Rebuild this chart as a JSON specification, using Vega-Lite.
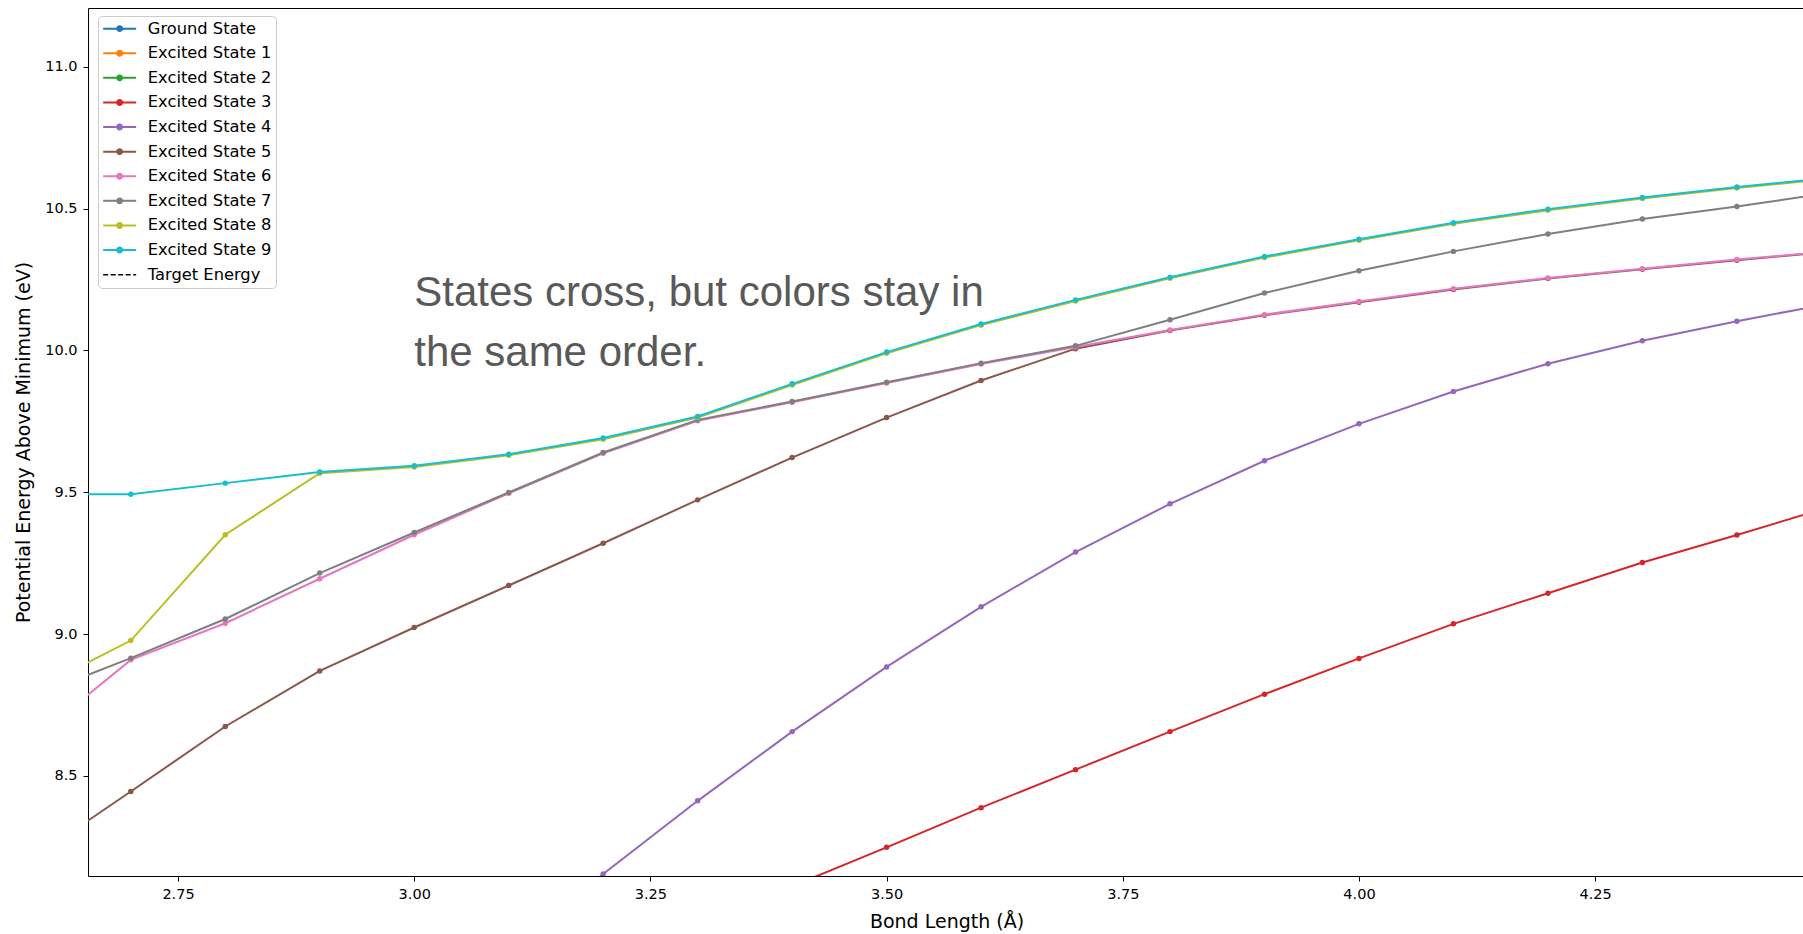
{
  "$schema": "https://vega.github.io/schema/vega-lite/v6.json",
  "width": 1717,
  "height": 868,
  "autosize": {"type": "none"},
  "padding": {"left": 88, "top": 8, "right": 0, "bottom": 58},
  "background": "white",
  "config": {
    "view": {"stroke": "#000000", "strokeWidth": 1},
    "axis": {
      "domain": false,
      "grid": false,
      "tickColor": "#000000",
      "labelColor": "#000000",
      "labelFont": "DejaVu Sans",
      "labelFontSize": 14.5,
      "titleFont": "DejaVu Sans",
      "titleFontSize": 19,
      "titleFontWeight": "normal",
      "titleColor": "#000000",
      "labelOverlap": false,
      "labelFlush": false
    }
  },
  "data": {
    "values": [
      {"state": "Excited State 3", "bond": 3.4, "energy": 8.111},
      {"state": "Excited State 3", "bond": 3.5, "energy": 8.248},
      {"state": "Excited State 3", "bond": 3.6, "energy": 8.388},
      {"state": "Excited State 3", "bond": 3.7, "energy": 8.522},
      {"state": "Excited State 3", "bond": 3.8, "energy": 8.656},
      {"state": "Excited State 3", "bond": 3.9, "energy": 8.788},
      {"state": "Excited State 3", "bond": 4.0, "energy": 8.914},
      {"state": "Excited State 3", "bond": 4.1, "energy": 9.036},
      {"state": "Excited State 3", "bond": 4.2, "energy": 9.144},
      {"state": "Excited State 3", "bond": 4.3, "energy": 9.252},
      {"state": "Excited State 3", "bond": 4.4, "energy": 9.349},
      {"state": "Excited State 3", "bond": 4.5, "energy": 9.450},

      {"state": "Excited State 4", "bond": 3.1, "energy": 7.87},
      {"state": "Excited State 4", "bond": 3.2, "energy": 8.154},
      {"state": "Excited State 4", "bond": 3.3, "energy": 8.412},
      {"state": "Excited State 4", "bond": 3.4, "energy": 8.656},
      {"state": "Excited State 4", "bond": 3.5, "energy": 8.884},
      {"state": "Excited State 4", "bond": 3.6, "energy": 9.096},
      {"state": "Excited State 4", "bond": 3.7, "energy": 9.289},
      {"state": "Excited State 4", "bond": 3.8, "energy": 9.459},
      {"state": "Excited State 4", "bond": 3.9, "energy": 9.611},
      {"state": "Excited State 4", "bond": 4.0, "energy": 9.741},
      {"state": "Excited State 4", "bond": 4.1, "energy": 9.855},
      {"state": "Excited State 4", "bond": 4.2, "energy": 9.953},
      {"state": "Excited State 4", "bond": 4.3, "energy": 10.034},
      {"state": "Excited State 4", "bond": 4.4, "energy": 10.103},
      {"state": "Excited State 4", "bond": 4.5, "energy": 10.166},

      {"state": "Excited State 5", "bond": 2.6, "energy": 8.218},
      {"state": "Excited State 5", "bond": 2.7, "energy": 8.445},
      {"state": "Excited State 5", "bond": 2.8, "energy": 8.674},
      {"state": "Excited State 5", "bond": 2.9, "energy": 8.870},
      {"state": "Excited State 5", "bond": 3.0, "energy": 9.023},
      {"state": "Excited State 5", "bond": 3.1, "energy": 9.171},
      {"state": "Excited State 5", "bond": 3.2, "energy": 9.320},
      {"state": "Excited State 5", "bond": 3.3, "energy": 9.473},
      {"state": "Excited State 5", "bond": 3.4, "energy": 9.622},
      {"state": "Excited State 5", "bond": 3.5, "energy": 9.763},
      {"state": "Excited State 5", "bond": 3.6, "energy": 9.894},
      {"state": "Excited State 5", "bond": 3.7, "energy": 10.006},
      {"state": "Excited State 5", "bond": 3.8, "energy": 10.070},
      {"state": "Excited State 5", "bond": 3.9, "energy": 10.124},
      {"state": "Excited State 5", "bond": 4.0, "energy": 10.170},
      {"state": "Excited State 5", "bond": 4.1, "energy": 10.215},
      {"state": "Excited State 5", "bond": 4.2, "energy": 10.253},
      {"state": "Excited State 5", "bond": 4.3, "energy": 10.286},
      {"state": "Excited State 5", "bond": 4.4, "energy": 10.318},
      {"state": "Excited State 5", "bond": 4.5, "energy": 10.348},

      {"state": "Excited State 6", "bond": 2.6, "energy": 8.637},
      {"state": "Excited State 6", "bond": 2.7, "energy": 8.909},
      {"state": "Excited State 6", "bond": 2.8, "energy": 9.038},
      {"state": "Excited State 6", "bond": 2.9, "energy": 9.195},
      {"state": "Excited State 6", "bond": 3.0, "energy": 9.350},
      {"state": "Excited State 6", "bond": 3.1, "energy": 9.496},
      {"state": "Excited State 6", "bond": 3.2, "energy": 9.637},
      {"state": "Excited State 6", "bond": 3.3, "energy": 9.752},
      {"state": "Excited State 6", "bond": 3.4, "energy": 9.817},
      {"state": "Excited State 6", "bond": 3.5, "energy": 9.885},
      {"state": "Excited State 6", "bond": 3.6, "energy": 9.952},
      {"state": "Excited State 6", "bond": 3.7, "energy": 10.012},
      {"state": "Excited State 6", "bond": 3.8, "energy": 10.072},
      {"state": "Excited State 6", "bond": 3.9, "energy": 10.126},
      {"state": "Excited State 6", "bond": 4.0, "energy": 10.172},
      {"state": "Excited State 6", "bond": 4.1, "energy": 10.217},
      {"state": "Excited State 6", "bond": 4.2, "energy": 10.255},
      {"state": "Excited State 6", "bond": 4.3, "energy": 10.288},
      {"state": "Excited State 6", "bond": 4.4, "energy": 10.320},
      {"state": "Excited State 6", "bond": 4.5, "energy": 10.350},

      {"state": "Excited State 7", "bond": 2.6, "energy": 8.785},
      {"state": "Excited State 7", "bond": 2.7, "energy": 8.915},
      {"state": "Excited State 7", "bond": 2.8, "energy": 9.053},
      {"state": "Excited State 7", "bond": 2.9, "energy": 9.215},
      {"state": "Excited State 7", "bond": 3.0, "energy": 9.358},
      {"state": "Excited State 7", "bond": 3.1, "energy": 9.499},
      {"state": "Excited State 7", "bond": 3.2, "energy": 9.640},
      {"state": "Excited State 7", "bond": 3.3, "energy": 9.755},
      {"state": "Excited State 7", "bond": 3.4, "energy": 9.820},
      {"state": "Excited State 7", "bond": 3.5, "energy": 9.888},
      {"state": "Excited State 7", "bond": 3.6, "energy": 9.955},
      {"state": "Excited State 7", "bond": 3.7, "energy": 10.016},
      {"state": "Excited State 7", "bond": 3.8, "energy": 10.108},
      {"state": "Excited State 7", "bond": 3.9, "energy": 10.202},
      {"state": "Excited State 7", "bond": 4.0, "energy": 10.281},
      {"state": "Excited State 7", "bond": 4.1, "energy": 10.349},
      {"state": "Excited State 7", "bond": 4.2, "energy": 10.410},
      {"state": "Excited State 7", "bond": 4.3, "energy": 10.463},
      {"state": "Excited State 7", "bond": 4.4, "energy": 10.507},
      {"state": "Excited State 7", "bond": 4.5, "energy": 10.556},

      {"state": "Excited State 8", "bond": 2.6, "energy": 8.807},
      {"state": "Excited State 8", "bond": 2.7, "energy": 8.977},
      {"state": "Excited State 8", "bond": 2.8, "energy": 9.350},
      {"state": "Excited State 8", "bond": 2.9, "energy": 9.567},
      {"state": "Excited State 8", "bond": 3.0, "energy": 9.589},
      {"state": "Excited State 8", "bond": 3.1, "energy": 9.630},
      {"state": "Excited State 8", "bond": 3.2, "energy": 9.687},
      {"state": "Excited State 8", "bond": 3.3, "energy": 9.763},
      {"state": "Excited State 8", "bond": 3.4, "energy": 9.878},
      {"state": "Excited State 8", "bond": 3.5, "energy": 9.990},
      {"state": "Excited State 8", "bond": 3.6, "energy": 10.089},
      {"state": "Excited State 8", "bond": 3.7, "energy": 10.174},
      {"state": "Excited State 8", "bond": 3.8, "energy": 10.254},
      {"state": "Excited State 8", "bond": 3.9, "energy": 10.327},
      {"state": "Excited State 8", "bond": 4.0, "energy": 10.388},
      {"state": "Excited State 8", "bond": 4.1, "energy": 10.446},
      {"state": "Excited State 8", "bond": 4.2, "energy": 10.494},
      {"state": "Excited State 8", "bond": 4.3, "energy": 10.535},
      {"state": "Excited State 8", "bond": 4.4, "energy": 10.572},
      {"state": "Excited State 8", "bond": 4.5, "energy": 10.605},

      {"state": "Excited State 9", "bond": 2.6, "energy": 9.493},
      {"state": "Excited State 9", "bond": 2.7, "energy": 9.493},
      {"state": "Excited State 9", "bond": 2.8, "energy": 9.532},
      {"state": "Excited State 9", "bond": 2.9, "energy": 9.571},
      {"state": "Excited State 9", "bond": 3.0, "energy": 9.593},
      {"state": "Excited State 9", "bond": 3.1, "energy": 9.634},
      {"state": "Excited State 9", "bond": 3.2, "energy": 9.691},
      {"state": "Excited State 9", "bond": 3.3, "energy": 9.767},
      {"state": "Excited State 9", "bond": 3.4, "energy": 9.882},
      {"state": "Excited State 9", "bond": 3.5, "energy": 9.994},
      {"state": "Excited State 9", "bond": 3.6, "energy": 10.093},
      {"state": "Excited State 9", "bond": 3.7, "energy": 10.178},
      {"state": "Excited State 9", "bond": 3.8, "energy": 10.258},
      {"state": "Excited State 9", "bond": 3.9, "energy": 10.331},
      {"state": "Excited State 9", "bond": 4.0, "energy": 10.392},
      {"state": "Excited State 9", "bond": 4.1, "energy": 10.450},
      {"state": "Excited State 9", "bond": 4.2, "energy": 10.498},
      {"state": "Excited State 9", "bond": 4.3, "energy": 10.539},
      {"state": "Excited State 9", "bond": 4.4, "energy": 10.576},
      {"state": "Excited State 9", "bond": 4.5, "energy": 10.609}
    ]
  },
  "layer": [
    {
      "mark": {
        "type": "line",
        "clip": true,
        "strokeWidth": 2,
        "point": {"filled": true, "size": 30, "opacity": 1}
      },
      "encoding": {
        "x": {
          "field": "bond",
          "type": "quantitative",
          "scale": {"domain": [2.6547, 4.4721], "nice": false, "zero": false},
          "axis": {
            "title": "Bond Length (Å)",
            "values": [2.75, 3.0, 3.25, 3.5, 3.75, 4.0, 4.25],
            "format": ".2f",
            "tickSize": 5,
            "labelPadding": 6,
            "titlePadding": 12
          }
        },
        "y": {
          "field": "energy",
          "type": "quantitative",
          "scale": {"domain": [8.147, 11.207], "nice": false, "zero": false},
          "axis": {
            "title": "Potential Energy Above Minimum (eV)",
            "values": [8.5, 9.0, 9.5, 10.0, 10.5, 11.0],
            "format": ".1f",
            "tickSize": 5,
            "labelPadding": 6,
            "titlePadding": 11
          }
        },
        "color": {
          "field": "state",
          "type": "nominal",
          "sort": null,
          "scale": {
            "domain": ["Ground State", "Excited State 1", "Excited State 2", "Excited State 3", "Excited State 4", "Excited State 5", "Excited State 6", "Excited State 7", "Excited State 8", "Excited State 9", "Target Energy"],
            "range": ["#1f77b4", "#ff7f0e", "#2ca02c", "#d62728", "#9467bd", "#8c564b", "#e377c2", "#7f7f7f", "#bcbd22", "#17becf", "#000000"]
          },
          "legend": {
            "orient": "none",
            "legendX": 10,
            "legendY": 8,
            "title": null,
            "fillColor": "white",
            "strokeColor": "#cccccc",
            "cornerRadius": 4,
            "padding": 4.5,
            "symbolSize": 68,
            "symbolStrokeWidth": 2,
            "symbolOffset": 9,
            "symbolType": "M-4,0L4,0",
            "labelOffset": 20,
            "rowPadding": 7.6,
            "labelFont": "DejaVu Sans",
            "labelFontSize": 16.3,
            "labelColor": "#000000",
            "encode": {
              "symbols": {
                "update": {
                  "shape": {"signal": "datum.value === 'Target Energy' ? 'M-4,0L4,0' : 'M-4,0L4,0M-0.6,0A0.6,0.6,0,1,1,0.6,0A0.6,0.6,0,1,1,-0.6,0'"},
                  "fill": {"signal": "datum.value === 'Target Energy' ? 'transparent' : scale('color', datum.value)"},
                  "strokeDash": {"signal": "datum.value === 'Target Energy' ? [5, 2.5] : []"},
                  "strokeWidth": {"signal": "datum.value === 'Target Energy' ? 1.5 : 2"},
                  "opacity": {"value": 1}
                }
              }
            }
          }
        }
      }
    },
    {
      "data": {
        "values": [
          {"bond": 3.0, "energy": 10.155, "note": ["States cross, but colors stay in", "the same order."]}
        ]
      },
      "mark": {
        "type": "text",
        "align": "left",
        "baseline": "alphabetic",
        "font": "Liberation Sans",
        "fontSize": 42,
        "lineHeight": 59.3,
        "color": "#595959"
      },
      "encoding": {
        "x": {"field": "bond", "type": "quantitative"},
        "y": {"field": "energy", "type": "quantitative"},
        "text": {"field": "note"}
      }
    }
  ]
}
